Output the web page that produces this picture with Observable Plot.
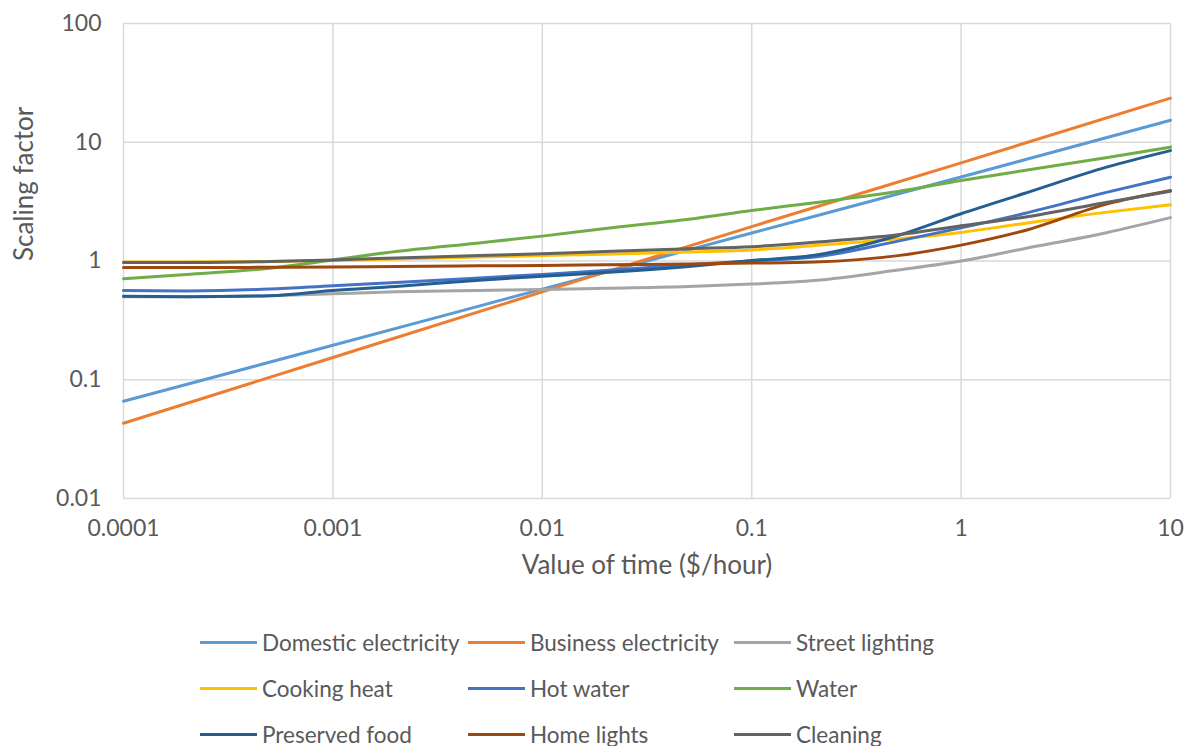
<!DOCTYPE html>
<html>
<head>
<meta charset="utf-8">
<script src="https://cdn.jsdelivr.net/npm/d3@7"></script>
<script src="https://cdn.jsdelivr.net/npm/@observablehq/plot@0.6"></script>
<style>
  body { margin: 0; background: #fff; font-family: Lato, "Open Sans", sans-serif; }
  #chart { width: 1189px; }
  .legend { display: grid; grid-template-columns: 268px 266px 260px; margin-left: 200px; padding-top: 19px; row-gap: 0; }
  .item { display: flex; align-items: center; height: 46px; color: #595959; font-size: 22.5px; white-space: nowrap; }
  .sw { width: 57px; height: 3px; margin-right: 5px; flex: none; }
</style>
</head>
<body>
<div id="chart"></div>
<script>
const xDecades = [0.0001, 0.001, 0.01, 0.1, 1, 10];
const xFine = [0.0001, 0.0002, 0.0005, 0.001, 0.002, 0.005, 0.01, 0.02, 0.05, 0.1, 0.2, 0.5, 1, 2, 5, 10];
const yTicks = [0.01, 0.1, 1, 10, 100];

const seriesNames = ["Domestic electricity", "Business electricity", "Street lighting", "Cooking heat", "Hot water", "Water", "Preserved food", "Home lights", "Cleaning"];
const seriesColors = ["#5B9BD5", "#ED7D31", "#A5A5A5", "#FFC000", "#4472C4", "#70AD47", "#255E91", "#9E480E", "#636363"];

const domesticElectricity = [0.066, 0.195, 0.58, 1.72, 5.1, 15.3];
const businessElectricity = [0.043, 0.154, 0.55, 1.95, 6.7, 23.5];
const streetLighting = [0.50, 0.50, 0.51, 0.53, 0.55, 0.565, 0.575, 0.59, 0.61, 0.64, 0.685, 0.84, 1.0, 1.27, 1.74, 2.32];
const cookingHeat = [0.98, 0.98, 0.99, 1.01, 1.04, 1.08, 1.11, 1.14, 1.19, 1.24, 1.35, 1.54, 1.74, 2.07, 2.58, 2.97];
const hotWater = [0.565, 0.56, 0.58, 0.62, 0.66, 0.72, 0.77, 0.83, 0.93, 1.0, 1.08, 1.47, 1.9, 2.51, 3.8, 5.08];
const water = [0.71, 0.77, 0.87, 1.02, 1.2, 1.42, 1.62, 1.88, 2.25, 2.66, 3.1, 3.85, 4.76, 5.78, 7.45, 9.1];
const preservedFood = [0.505, 0.50, 0.51, 0.565, 0.61, 0.69, 0.745, 0.8, 0.9, 1.01, 1.12, 1.64, 2.5, 3.7, 6.2, 8.5];
const homeLights = [0.88, 0.88, 0.885, 0.89, 0.9, 0.91, 0.917, 0.93, 0.945, 0.96, 0.98, 1.11, 1.36, 1.8, 3.03, 3.92];
const cleaning = [0.97, 0.97, 0.99, 1.02, 1.06, 1.11, 1.15, 1.2, 1.27, 1.32, 1.44, 1.66, 1.98, 2.34, 3.13, 3.87];

const seriesValues = [domesticElectricity, businessElectricity, streetLighting, cookingHeat, hotWater, water, preservedFood, homeLights, cleaning];

const rows = [];
seriesValues.forEach((vals, i) => {
  const xs = vals.length === xDecades.length ? xDecades : xFine;
  vals.forEach((v, j) => rows.push({series: seriesNames[i], x: xs[j], y: v}));
});

const fmt = d => String(d);

const plot = Plot.plot({
  width: 1189,
  height: 600,
  marginLeft: 123,
  marginRight: 19,
  marginTop: 23,
  marginBottom: 102,
  style: {fontSize: "23px", fontFamily: "Lato, 'Open Sans', sans-serif", color: "#595959", background: "#fff"},
  x: {type: "log", domain: [0.0001, 10]},
  y: {type: "log", domain: [0.01, 100]},
  color: {domain: seriesNames, range: seriesColors},
  marks: [
    Plot.gridX(xDecades, {stroke: "#d9d9d9", strokeOpacity: 1, strokeWidth: 1.5}),
    Plot.gridY(yTicks, {stroke: "#d9d9d9", strokeOpacity: 1, strokeWidth: 1.5}),
    Plot.axisX({ticks: xDecades, tickSize: 0, tickPadding: 21, tickFormat: fmt, label: null, fill: "#595959", fontSize: 23}),
    Plot.axisY({ticks: yTicks, tickSize: 0, tickPadding: 22, tickFormat: fmt, label: null, fill: "#595959", fontSize: 23}),
    Plot.lineY(rows, {x: "x", y: "y", z: "series", stroke: "series", strokeWidth: 3, curve: "monotone-x"}),
    Plot.text(["Value of time ($/hour)"], {frameAnchor: "bottom", dy: 75, fill: "#595959", fontSize: 26}),
    Plot.text(["Scaling factor"], {frameAnchor: "left", dx: -99, rotate: -90, fill: "#595959", fontSize: 26})
  ]
});
document.getElementById("chart").appendChild(plot);

const legend = document.createElement("div");
legend.className = "legend";
seriesNames.forEach((name, i) => {
  const item = document.createElement("div");
  item.className = "item";
  const sw = document.createElement("span");
  sw.className = "sw";
  sw.style.background = seriesColors[i];
  const label = document.createElement("span");
  label.textContent = name;
  item.appendChild(sw);
  item.appendChild(label);
  legend.appendChild(item);
});
document.getElementById("chart").appendChild(legend);
</script>
</body>
</html>
